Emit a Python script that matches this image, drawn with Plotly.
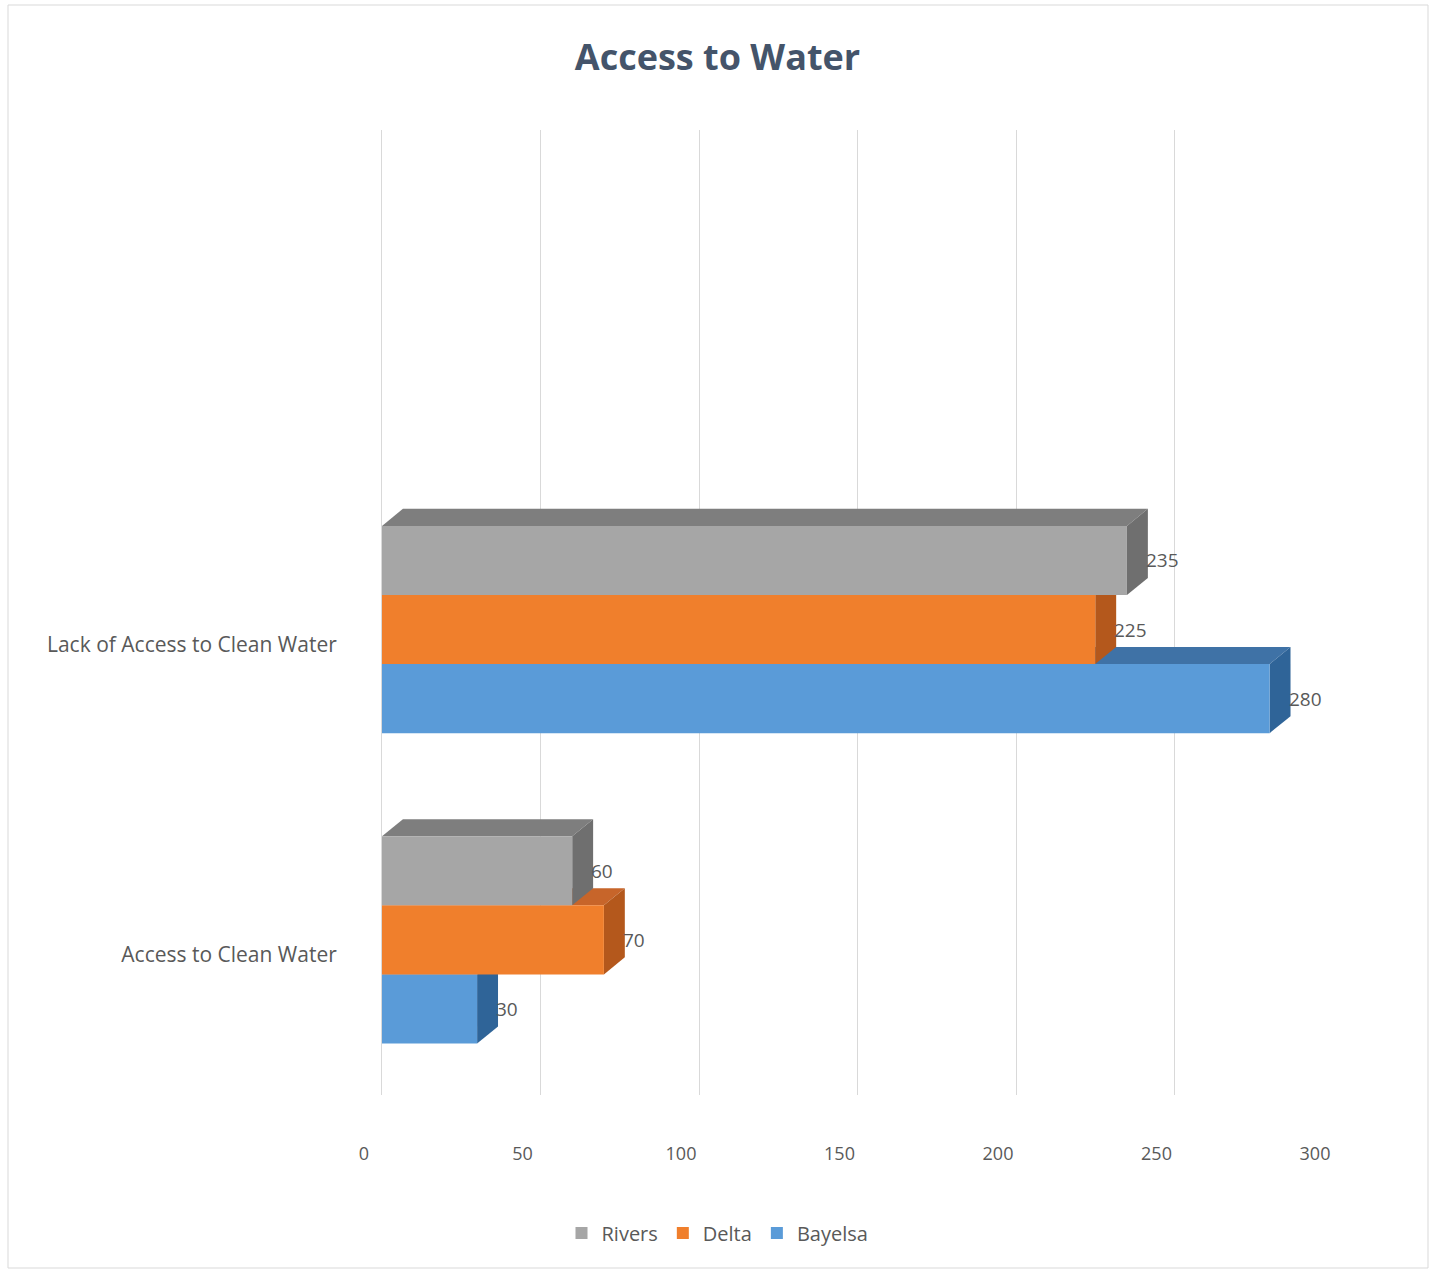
import plotly.graph_objects as go

# ---- data ----
categories = ["Access to Clean Water", "Lack of Access to Clean Water"]
series_names = ["Bayelsa", "Delta", "Rivers"]  # bottom -> top within each group
bayelsa = [30, 280]
delta = [70, 225]
rivers = [60, 235]
x_ticks = [0, 50, 100, 150, 200, 250, 300]

values = [bayelsa, delta, rivers]
front_colors = ["#5A9BD8", "#F07F2C", "#A6A6A6"]
side_colors = ["#2F6498", "#B4581C", "#6F6F6F"]
top_colors = ["#3F72A6", "#C7652A", "#7E7E7E"]

text_color = "#595959"
font_family = "Open Sans, Lato, DejaVu Sans, sans-serif"

W, H = 1435, 1272
ML, MR, MT, MB = 382, 102, 130, 177

bargap = 0.332
n = len(series_names)
bw = (1 - bargap) / n
depth_x = 6.6     # depth in value units
depth_y = 0.055   # depth in category units

ypos = list(range(len(categories)))

fig = go.Figure()
for i, name in enumerate(series_names):
    fig.add_trace(go.Bar(
        y=ypos, x=values[i], name=name, orientation="h",
        marker=dict(color=front_colors[i], line=dict(width=0)),
        hoverinfo="x+name",
    ))

shapes = []
annotations = []
for i in range(n):
    off0 = -(1 - bargap) / 2 + i * bw
    for j, yc in enumerate(ypos):
        v = values[i][j]
        y0 = yc + off0
        y1 = y0 + bw
        # top face
        shapes.append(dict(
            type="path", xref="x", yref="y", layer="between",
            path=f"M 0,{y1} L {depth_x},{y1 + depth_y} L {v + depth_x},{y1 + depth_y} L {v},{y1} Z",
            fillcolor=top_colors[i], line=dict(width=0),
        ))
        # side face
        shapes.append(dict(
            type="path", xref="x", yref="y", layer="between",
            path=f"M {v},{y0} L {v + depth_x},{y0 + depth_y} L {v + depth_x},{y1 + depth_y} L {v},{y1} Z",
            fillcolor=side_colors[i], line=dict(width=0),
        ))
        annotations.append(dict(
            x=v, y=(y0 + y1) / 2, xref="x", yref="y", text=str(v),
            showarrow=False, xanchor="left", yanchor="middle", xshift=17,
            font=dict(size=19, color=text_color, family=font_family),
        ))

# chart-area border (in paper coordinates derived from margins)
pw = W - ML - MR
ph = H - MT - MB
shapes.append(dict(
    type="rect", xref="paper", yref="paper", layer="below",
    x0=(8 - ML) / pw, x1=(W - 7 - ML) / pw,
    y0=-(H - 4 - (H - MB)) / ph, y1=1 + (MT - 5) / ph,
    line=dict(color="#D9D9D9", width=1), fillcolor="rgba(0,0,0,0)",
))

fig.update_layout(
    width=W, height=H,
    margin=dict(l=ML, r=MR, t=MT, b=MB, autoexpand=False),
    paper_bgcolor="white", plot_bgcolor="white",
    barmode="group", bargap=bargap, bargroupgap=0,
    title=dict(
        text="<b>Access to Water</b>", x=0.5, xref="container", xanchor="center",
        y=1 - 57 / H, yref="container", yanchor="middle",
        font=dict(size=36, color="#44546A", family=font_family),
    ),
    xaxis=dict(
        range=[0, 300], tickvals=x_ticks, ticktext=[str(t) for t in x_ticks],
        showgrid=True, gridcolor="#D9D9D9", gridwidth=1,
        zeroline=False, showline=False, ticks="",
        ticklabelstandoff=46, ticklabelshift=-18,
        tickfont=dict(size=18, color=text_color, family=font_family),
        fixedrange=True,
    ),
    yaxis=dict(
        range=[-0.5, 2.61], tickvals=ypos, ticktext=categories,
        showgrid=False, zeroline=False, showline=True, linecolor="#D9D9D9",
        ticks="", ticklabelstandoff=40, ticklabelshift=15,
        tickfont=dict(size=21, color=text_color, family=font_family),
        fixedrange=True,
    ),
    legend=dict(
        orientation="h", x=(W / 2 - ML) / pw, xanchor="center",
        y=-0.143, yanchor="middle",
        traceorder="reversed", font=dict(size=20, color=text_color, family=font_family),
        itemwidth=30,
    ),
    shapes=shapes,
    annotations=annotations,
)

fig.write_html("out.html")
